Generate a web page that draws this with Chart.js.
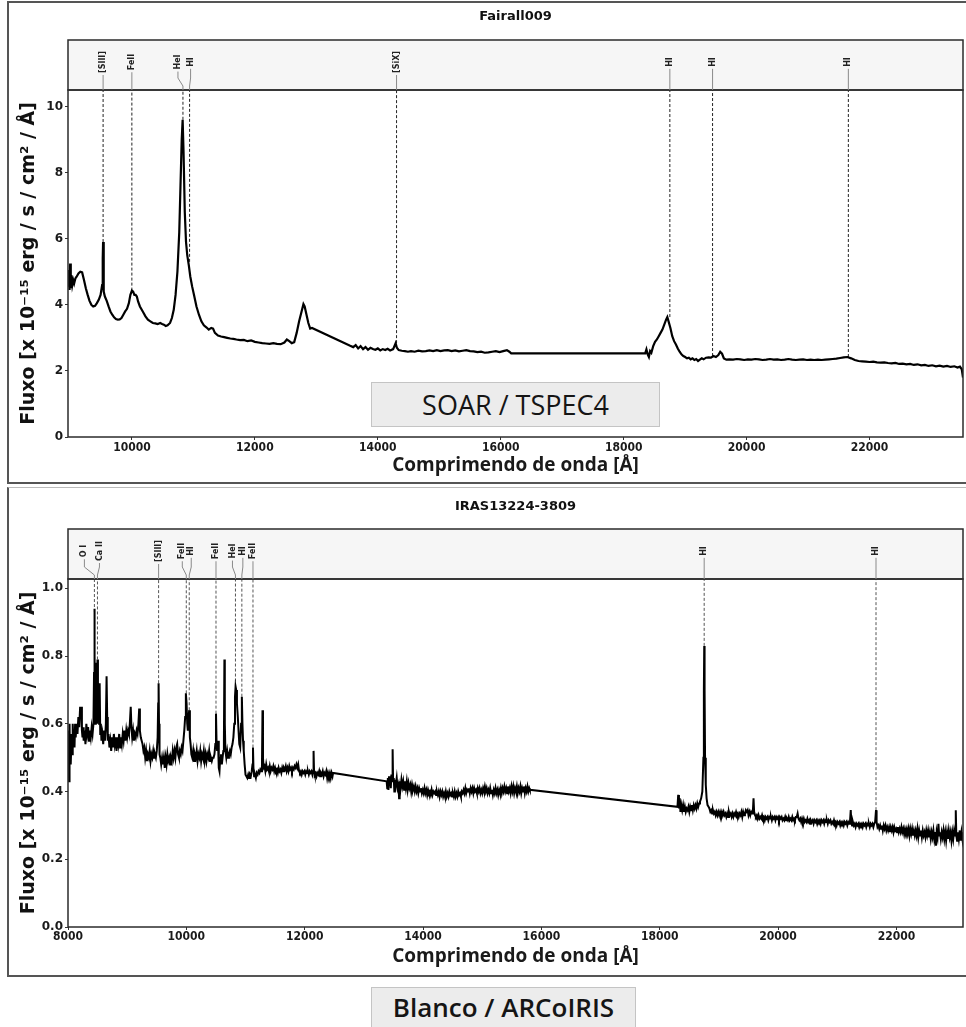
<!DOCTYPE html>
<html>
<head>
<meta charset="utf-8">
<script src="https://cdn.jsdelivr.net/npm/chart.js@4.4.1/dist/chart.umd.min.js"></script>
<style>
  body { margin: 0; background: #fff; width: 966px; height: 1027px; position: relative; overflow: hidden; }
  .panel { position: absolute; left: 7px; width: 962px; box-sizing: border-box; }
  #p1 { top: 1px; height: 483px; border-left: 2px solid #555; border-top: 2px solid #555; border-bottom: 2px solid #555; }
  #p2 { top: 487px; height: 490px; border-left: 2px solid #555; border-top: 1px solid #bbb; border-bottom: 2px solid #555; }
  canvas { position: absolute; }
  .tag { position: absolute; background: #ececec; border: 1px solid #c4c4c4; box-sizing: border-box;
         text-align: center; font-family: "Open Sans", sans-serif; color: #151515; z-index: 2; }
</style>
</head>
<body>
<div class="panel" id="p1"></div>
<div class="panel" id="p2"></div>
<canvas id="topChart" width="957" height="478" style="left:9px;top:4px"></canvas>
<canvas id="bottomChart" width="957" height="486" style="left:9px;top:489px"></canvas>
<div class="tag" style="left:371px;top:382px;width:289px;height:45px;font-size:27px;line-height:43px;">SOAR / TSPEC4</div>
<div class="tag" style="left:371px;top:987px;width:265px;height:42px;font-size:26px;font-weight:600;line-height:39px;">Blanco / ARCoIRIS</div>

<script>
// Fairall009 (SOAR / TSPEC4): [wavelength Å, flux]
const fairallSpectrum = [
  [8965,4.55],[8975,5.05],[8985,4.45],[8995,5.25],[9005,4.5],[9015,4.9],[9030,4.6],[9045,4.75],[9060,4.65],[9080,4.8],
  [9100,4.85],[9130,4.95],[9160,5.0],[9190,4.98],[9220,4.75],[9250,4.5],[9280,4.3],[9310,4.12],[9340,4.0],[9370,3.95],
  [9400,3.97],[9430,4.05],[9460,4.15],[9490,4.3],[9515,4.6],[9525,5.4],[9531,5.9],[9537,5.2],[9545,4.4],[9560,4.25],
  [9590,4.12],[9620,3.95],[9650,3.8],[9680,3.7],[9710,3.62],[9740,3.57],[9770,3.55],[9800,3.56],[9830,3.6],[9860,3.7],
  [9890,3.8],[9920,3.88],[9950,4.05],[9975,4.3],[10000,4.43],[10020,4.4],[10040,4.3],[10060,4.3],[10080,4.25],[10100,4.1],
  [10130,3.95],[10160,3.85],[10190,3.75],[10220,3.65],[10260,3.55],[10300,3.5],[10340,3.45],[10380,3.44],[10420,3.42],[10460,3.45],
  [10490,3.42],[10520,3.4],[10550,3.36],[10580,3.38],[10620,3.45],[10650,3.6],[10680,3.85],[10710,4.3],[10740,5.0],[10770,6.2],
  [10790,7.6],[10810,9.0],[10825,9.6],[10840,8.6],[10860,6.8],[10880,5.9],[10900,5.5],[10925,5.2],[10950,4.85],[10980,4.55],
  [11010,4.3],[11050,3.95],[11090,3.7],[11130,3.5],[11170,3.38],[11210,3.32],[11250,3.25],[11290,3.3],[11320,3.28],[11350,3.15],
  [11400,3.07],[11450,3.04],[11500,3.02],[11550,3.0],[11600,2.98],[11650,2.97],[11700,2.95],[11760,2.93],[11820,2.94],[11880,2.9],
  [11940,2.92],[12000,2.88],[12060,2.86],[12120,2.84],[12180,2.83],[12240,2.82],[12300,2.84],[12360,2.82],[12420,2.81],[12480,2.86],
  [12520,2.95],[12560,2.9],[12600,2.84],[12640,2.87],[12680,3.15],[12720,3.5],[12760,3.8],[12790,4.02],[12810,3.95],[12840,3.7],
  [12870,3.45],[12900,3.28],[12930,3.3],
  [13550,2.76],[13600,2.72],[13640,2.78],[13680,2.68],[13720,2.75],[13760,2.66],[13800,2.72],[13840,2.64],[13880,2.7],[13920,2.66],
  [13960,2.64],[14000,2.68],[14040,2.62],[14080,2.66],[14120,2.63],[14160,2.67],[14200,2.62],[14250,2.66],[14290,2.84],[14310,2.7],
  [14340,2.63],[14390,2.61],[14440,2.6],[14490,2.58],[14540,2.6],[14600,2.58],[14660,2.61],[14720,2.59],[14780,2.6],[14840,2.62],
  [14900,2.6],[14960,2.63],[15020,2.6],[15080,2.62],[15140,2.63],[15200,2.6],[15260,2.62],[15320,2.59],[15380,2.61],[15440,2.63],
  [15500,2.6],[15560,2.59],[15620,2.57],[15680,2.58],[15740,2.55],[15800,2.56],[15860,2.58],[15920,2.6],[15980,2.57],[16040,2.6],
  [16100,2.63],[16140,2.58],[16170,2.53],
  [18350,2.53],[18370,2.65],[18390,2.5],[18410,2.42],[18430,2.6],[18450,2.55],[18480,2.75],[18510,2.88],[18540,2.95],[18570,3.05],
  [18600,3.15],[18630,3.25],[18660,3.4],[18690,3.55],[18710,3.63],[18730,3.5],[18760,3.3],[18790,3.05],[18820,2.9],[18850,2.8],
  [18880,2.68],[18910,2.58],[18940,2.5],[18970,2.45],[19000,2.42],[19030,2.38],[19060,2.4],[19090,2.35],[19120,2.38],[19150,2.33],
  [19180,2.36],[19210,2.3],[19240,2.34],[19270,2.38],[19300,2.35],[19340,2.4],[19380,2.41],[19420,2.4],[19460,2.45],[19500,2.42],
  [19540,2.48],[19570,2.58],[19600,2.52],[19630,2.38],[19670,2.34],[19720,2.35],[19780,2.34],[19840,2.36],[19900,2.35],[19960,2.33],
  [20020,2.35],[20080,2.34],[20140,2.36],[20200,2.35],[20260,2.33],[20320,2.34],[20380,2.36],[20440,2.34],[20500,2.35],[20560,2.33],
  [20620,2.34],[20680,2.36],[20740,2.34],[20800,2.33],[20860,2.34],[20920,2.35],[20980,2.33],[21040,2.34],[21100,2.33],[21160,2.34],
  [21220,2.33],[21280,2.34],[21340,2.35],[21400,2.36],[21460,2.37],[21520,2.39],[21580,2.41],[21640,2.42],[21700,2.38],[21760,2.33],
  [21820,2.3],[21880,2.29],[21940,2.28],[22000,2.27],[22060,2.28],[22120,2.26],[22180,2.25],[22240,2.26],[22300,2.24],[22360,2.23],
  [22420,2.24],[22480,2.21],[22540,2.22],[22600,2.2],[22660,2.21],[22720,2.18],[22780,2.2],[22840,2.17],[22900,2.18],[22960,2.15],
  [23020,2.17],[23080,2.14],[23140,2.16],[23200,2.13],[23260,2.15],[23320,2.12],[23380,2.14],[23430,2.1],[23470,2.13],[23500,2.05],
  [23520,1.8]
];

// IRAS13224-3809 (Blanco / ARCoIRIS): [wavelength Å, flux]
const irasSpectrum = [
  [8000,0.45],[8010,0.58],[8018,0.43],[8026,0.6],[8034,0.5],[8042,0.57],[8050,0.48],[8060,0.56],[8070,0.51],[8080,0.6],
  [8090,0.55],[8100,0.58],[8110,0.53],[8120,0.6],[8130,0.56],[8145,0.6],[8160,0.57],[8175,0.62],[8190,0.59],[8205,0.65],
  [8215,0.62],[8225,0.65],[8235,0.58],[8245,0.56],[8255,0.59],[8265,0.55],[8280,0.58],[8295,0.54],[8310,0.6],[8325,0.57],
  [8340,0.59],[8355,0.55],[8370,0.58],[8385,0.56],[8400,0.59],[8415,0.57],[8430,0.6],[8440,0.75],[8446,0.94],[8452,0.8],
  [8460,0.6],[8470,0.72],[8480,0.78],[8490,0.6],[8498,0.79],[8506,0.62],[8515,0.72],[8525,0.6],[8535,0.72],[8545,0.57],
  [8555,0.6],[8565,0.55],[8580,0.57],[8595,0.54],[8610,0.58],[8625,0.55],[8640,0.6],[8652,0.74],[8662,0.62],[8672,0.55],
  [8685,0.57],[8700,0.53],[8715,0.55],[8730,0.52],[8745,0.56],[8760,0.53],[8775,0.57],[8790,0.54],[8805,0.56],[8820,0.52],
  [8835,0.56],[8850,0.54],[8865,0.57],[8880,0.53],[8895,0.56],[8910,0.54],[8925,0.57],[8940,0.55],[8955,0.58],[8970,0.55],
  [8985,0.58],[9000,0.56],[9015,0.58],[9030,0.57],[9045,0.6],[9060,0.65],[9072,0.59],[9085,0.56],[9100,0.58],[9115,0.55],
  [9130,0.57],[9145,0.56],[9160,0.58],[9175,0.57],[9190,0.6],[9203,0.645],[9215,0.58],[9230,0.56],[9245,0.55],[9260,0.54],
  [9275,0.52],[9290,0.53],[9305,0.5],[9320,0.52],[9335,0.49],[9350,0.51],[9365,0.5],[9380,0.52],[9395,0.49],[9410,0.51],
  [9425,0.5],[9440,0.52],[9455,0.5],[9470,0.51],[9485,0.5],[9500,0.52],[9515,0.56],[9524,0.66],[9531,0.72],[9538,0.6],
  [9547,0.51],[9560,0.5],[9575,0.48],[9590,0.5],[9605,0.48],[9620,0.5],[9635,0.47],[9650,0.5],[9665,0.48],[9680,0.51],
  [9695,0.49],[9710,0.5],[9725,0.48],[9740,0.5],[9755,0.49],[9770,0.52],[9785,0.5],[9800,0.52],[9815,0.5],[9830,0.53],
  [9845,0.54],[9860,0.51],[9875,0.5],[9890,0.52],[9905,0.51],[9920,0.53],[9935,0.52],[9950,0.55],[9965,0.58],[9980,0.62],
  [9992,0.69],[10004,0.66],[10015,0.6],[10025,0.58],[10035,0.62],[10049,0.64],[10060,0.56],[10072,0.54],[10085,0.51],[10100,0.5],
  [10115,0.52],[10130,0.49],[10145,0.51],[10160,0.5],[10175,0.52],[10190,0.49],[10205,0.51],[10220,0.5],[10235,0.52],[10250,0.49],
  [10265,0.51],[10280,0.5],[10295,0.52],[10310,0.49],[10325,0.51],[10340,0.49],[10355,0.51],[10370,0.5],[10385,0.52],[10400,0.49],
  [10415,0.5],[10430,0.49],[10445,0.5],[10460,0.5],[10475,0.51],[10490,0.54],[10501,0.63],[10510,0.55],[10520,0.52],[10535,0.55],
  [10548,0.47],[10560,0.46],[10572,0.5],[10585,0.51],[10600,0.48],[10612,0.5],[10625,0.52],[10635,0.55],[10643,0.79],[10650,0.6],
  [10660,0.52],[10675,0.5],[10690,0.52],[10705,0.5],[10720,0.51],[10735,0.52],[10750,0.51],[10765,0.53],[10780,0.54],[10795,0.56],
  [10810,0.6],[10822,0.68],[10832,0.71],[10842,0.7],[10855,0.66],[10870,0.62],[10882,0.58],[10895,0.54],[10910,0.53],[10925,0.6],
  [10938,0.68],[10948,0.6],[10958,0.55],[10970,0.52],[10985,0.48],[11000,0.45],[11015,0.445],[11030,0.44],[11045,0.45],[11060,0.44],
  [11075,0.45],[11090,0.445],[11105,0.46],[11118,0.48],[11126,0.53],[11134,0.47],[11145,0.445],[11160,0.45],[11175,0.44],[11190,0.455],
  [11205,0.45],[11220,0.46],[11235,0.455],[11250,0.465],[11265,0.46],[11278,0.48],[11287,0.64],[11295,0.5],[11305,0.47],[11320,0.475],
  [11335,0.46],[11350,0.48],[11365,0.465],[11380,0.47],[11395,0.46],[11410,0.475],[11425,0.46],[11440,0.47],[11455,0.465],[11470,0.475],
  [11485,0.46],[11500,0.47],[11515,0.46],[11530,0.465],[11545,0.455],[11560,0.47],[11575,0.46],[11590,0.465],[11605,0.455],[11620,0.47],
  [11635,0.46],[11650,0.47],[11665,0.465],[11680,0.475],[11695,0.46],[11710,0.47],[11725,0.46],[11740,0.475],[11755,0.465],[11770,0.47],
  [11785,0.46],[11800,0.47],[11815,0.465],[11830,0.475],[11845,0.47],[11860,0.48],[11875,0.47],[11890,0.48],[11905,0.46],[11920,0.455],
  [11935,0.46],[11950,0.45],[11965,0.46],[11980,0.455],[11995,0.46],[12010,0.45],[12025,0.46],[12040,0.455],[12055,0.46],[12070,0.45],
  [12085,0.46],[12100,0.455],[12115,0.46],[12130,0.45],[12142,0.46],[12150,0.52],[12158,0.46],[12170,0.45],[12185,0.455],[12200,0.445],
  [12215,0.455],[12230,0.45],[12245,0.46],[12260,0.445],[12275,0.455],[12290,0.45],[12305,0.46],[12320,0.445],[12335,0.455],[12350,0.45],
  [12365,0.46],[12380,0.44],[12395,0.455],[12410,0.445],[12425,0.455],[12440,0.44],[12455,0.455],[12470,0.445],[12480,0.455],
  [13385,0.43],[13395,0.41],[13405,0.44],[13415,0.405],[13425,0.445],[13435,0.42],[13445,0.44],[13455,0.41],[13465,0.45],[13478,0.43],
  [13486,0.525],[13494,0.43],[13505,0.44],[13515,0.4],[13525,0.435],[13540,0.42],[13555,0.44],[13570,0.41],[13585,0.42],[13595,0.38],
  [13605,0.43],[13620,0.41],[13635,0.435],[13650,0.415],[13665,0.43],[13680,0.405],[13695,0.43],[13710,0.41],[13725,0.43],[13740,0.405],
  [13755,0.425],[13770,0.41],[13785,0.42],[13800,0.4],[13815,0.42],[13830,0.405],[13845,0.415],[13860,0.4],[13875,0.415],[13890,0.4],
  [13905,0.41],[13920,0.395],[13935,0.41],[13950,0.4],[13965,0.41],[13980,0.395],[13995,0.405],[14010,0.395],[14025,0.41],[14040,0.395],
  [14055,0.405],[14070,0.39],[14085,0.405],[14100,0.395],[14115,0.4],[14130,0.39],[14145,0.405],[14160,0.39],[14175,0.4],[14190,0.395],
  [14205,0.4],[14220,0.39],[14235,0.4],[14250,0.39],[14265,0.4],[14280,0.385],[14295,0.4],[14310,0.39],[14325,0.4],[14340,0.385],
  [14355,0.395],[14370,0.385],[14385,0.4],[14400,0.385],[14415,0.395],[14430,0.385],[14445,0.4],[14460,0.39],[14475,0.395],[14490,0.385],
  [14505,0.395],[14520,0.385],[14535,0.4],[14550,0.385],[14565,0.395],[14580,0.385],[14595,0.4],[14610,0.39],[14625,0.395],[14640,0.385],
  [14655,0.4],[14670,0.395],[14685,0.405],[14700,0.395],[14715,0.41],[14730,0.395],[14745,0.405],[14760,0.4],[14775,0.41],[14790,0.395],
  [14805,0.41],[14820,0.4],[14835,0.41],[14850,0.395],[14865,0.41],[14880,0.4],[14895,0.405],[14910,0.395],[14925,0.41],[14940,0.4],
  [14955,0.41],[14970,0.395],[14985,0.405],[15000,0.395],[15015,0.41],[15030,0.4],[15045,0.415],[15060,0.4],[15075,0.41],[15090,0.395],
  [15105,0.405],[15120,0.395],[15135,0.41],[15150,0.395],[15165,0.405],[15180,0.39],[15195,0.405],[15210,0.395],[15225,0.41],[15240,0.395],
  [15255,0.405],[15270,0.39],[15285,0.405],[15300,0.395],[15315,0.41],[15330,0.395],[15345,0.41],[15360,0.4],[15375,0.415],[15390,0.4],
  [15405,0.41],[15420,0.395],[15435,0.415],[15450,0.4],[15465,0.41],[15480,0.395],[15495,0.415],[15510,0.4],[15525,0.415],[15540,0.395],
  [15555,0.41],[15570,0.4],[15585,0.415],[15600,0.395],[15615,0.41],[15630,0.4],[15645,0.415],[15660,0.395],[15675,0.41],[15690,0.4],
  [15705,0.415],[15720,0.395],[15735,0.41],[15750,0.4],[15765,0.415],[15780,0.4],[15795,0.41],[15805,0.405],
  [18300,0.355],[18312,0.39],[18325,0.35],[18338,0.38],[18350,0.34],[18365,0.36],[18380,0.345],[18395,0.36],[18410,0.34],[18425,0.355],
  [18440,0.34],[18455,0.35],[18470,0.345],[18485,0.355],[18500,0.34],[18515,0.355],[18530,0.345],[18545,0.36],[18560,0.345],[18575,0.36],
  [18590,0.35],[18605,0.36],[18620,0.35],[18635,0.365],[18650,0.355],[18665,0.365],[18680,0.37],[18700,0.38],[18720,0.4],[18738,0.5],
  [18746,0.7],[18752,0.83],[18758,0.7],[18766,0.5],[18778,0.42],[18792,0.38],[18808,0.36],[18825,0.355],[18840,0.35],[18855,0.34],
  [18870,0.345],[18885,0.335],[18900,0.345],[18915,0.335],[18930,0.34],[18945,0.33],[18960,0.34],[18975,0.33],[18990,0.34],[19005,0.33],
  [19020,0.34],[19035,0.33],[19050,0.34],[19065,0.33],[19080,0.34],[19095,0.33],[19110,0.335],[19125,0.325],[19140,0.335],[19155,0.325],
  [19170,0.34],[19185,0.33],[19200,0.335],[19215,0.325],[19230,0.335],[19245,0.325],[19260,0.335],[19275,0.33],[19290,0.34],[19305,0.33],
  [19320,0.335],[19335,0.325],[19350,0.335],[19365,0.33],[19380,0.34],[19395,0.325],[19410,0.34],[19425,0.33],[19440,0.335],[19455,0.345],
  [19470,0.34],[19485,0.345],[19500,0.33],[19515,0.34],[19530,0.33],[19545,0.34],[19560,0.335],[19575,0.345],[19585,0.38],[19595,0.34],
  [19610,0.33],[19625,0.325],[19640,0.33],[19655,0.32],[19670,0.33],[19685,0.32],[19700,0.325],[19715,0.32],[19730,0.33],[19745,0.32],
  [19760,0.325],[19775,0.315],[19790,0.325],[19805,0.32],[19820,0.325],[19835,0.315],[19850,0.325],[19865,0.32],[19880,0.325],[19895,0.315],
  [19910,0.325],[19925,0.32],[19940,0.325],[19955,0.315],[19970,0.325],[19985,0.32],[20000,0.325],[20015,0.315],[20030,0.325],[20045,0.32],
  [20060,0.325],[20075,0.315],[20090,0.32],[20105,0.315],[20120,0.325],[20135,0.315],[20150,0.32],[20165,0.315],[20180,0.325],[20195,0.315],
  [20210,0.32],[20225,0.315],[20240,0.325],[20255,0.315],[20270,0.32],[20285,0.315],[20300,0.325],[20315,0.325],[20330,0.335],[20345,0.32],
  [20360,0.315],[20375,0.32],[20390,0.31],[20405,0.32],[20420,0.31],[20435,0.32],[20450,0.31],[20465,0.315],[20480,0.31],[20495,0.32],
  [20510,0.31],[20525,0.315],[20540,0.305],[20555,0.315],[20570,0.31],[20585,0.315],[20600,0.305],[20615,0.315],[20630,0.31],[20645,0.315],
  [20660,0.305],[20675,0.315],[20690,0.31],[20705,0.315],[20720,0.305],[20735,0.315],[20750,0.31],[20765,0.315],[20780,0.305],[20795,0.315],
  [20810,0.31],[20825,0.315],[20840,0.305],[20855,0.315],[20870,0.31],[20885,0.315],[20900,0.305],[20915,0.31],[20930,0.305],[20945,0.315],
  [20960,0.305],[20975,0.31],[20990,0.3],[21005,0.31],[21020,0.305],[21035,0.31],[21050,0.3],[21065,0.31],[21080,0.305],[21095,0.31],
  [21110,0.3],[21125,0.31],[21140,0.305],[21155,0.31],[21170,0.3],[21185,0.31],[21200,0.305],[21215,0.31],[21228,0.345],[21236,0.31],
  [21250,0.3],[21265,0.31],[21280,0.3],[21295,0.305],[21310,0.295],[21325,0.305],[21340,0.3],[21355,0.305],[21370,0.295],[21385,0.305],
  [21400,0.3],[21415,0.305],[21430,0.295],[21445,0.305],[21460,0.3],[21475,0.305],[21490,0.295],[21505,0.305],[21520,0.3],[21535,0.305],
  [21550,0.295],[21565,0.305],[21580,0.3],[21595,0.305],[21610,0.295],[21625,0.305],[21640,0.31],[21655,0.345],[21665,0.31],[21680,0.295],
  [21695,0.3],[21710,0.29],[21725,0.3],[21740,0.29],[21755,0.3],[21770,0.285],[21785,0.3],[21800,0.29],[21815,0.3],[21830,0.285],
  [21845,0.295],[21860,0.285],[21875,0.295],[21890,0.28],[21905,0.295],[21920,0.285],[21935,0.295],[21950,0.28],[21965,0.295],[21980,0.285],
  [21995,0.29],[22010,0.28],[22025,0.295],[22040,0.28],[22055,0.29],[22070,0.28],[22085,0.295],[22100,0.28],[22115,0.29],[22130,0.275],
  [22145,0.29],[22160,0.28],[22175,0.29],[22190,0.275],[22205,0.29],[22220,0.27],[22235,0.29],[22250,0.275],[22265,0.29],[22280,0.27],
  [22295,0.285],[22310,0.27],[22325,0.285],[22340,0.27],[22355,0.29],[22370,0.265],[22385,0.285],[22400,0.27],[22415,0.285],[22430,0.265],
  [22445,0.285],[22460,0.27],[22475,0.28],[22490,0.265],[22505,0.285],[22520,0.27],[22535,0.285],[22550,0.265],[22565,0.28],[22580,0.26],
  [22595,0.28],[22610,0.265],[22625,0.285],[22640,0.26],[22655,0.28],[22668,0.24],[22680,0.28],[22695,0.265],[22710,0.305],[22722,0.27],
  [22735,0.28],[22750,0.26],[22765,0.28],[22780,0.265],[22795,0.285],[22810,0.26],[22825,0.28],[22840,0.255],[22855,0.28],[22870,0.26],
  [22885,0.285],[22900,0.265],[22915,0.28],[22930,0.255],[22945,0.28],[22960,0.26],[22975,0.285],[22990,0.27],[23003,0.345],[23012,0.27],
  [23025,0.255],[23040,0.28],[23055,0.26],[23070,0.285],[23085,0.255],[23100,0.28],[23115,0.26],[23125,0.28]
];

// tick values
const fairallXTicks = [10000, 12000, 14000, 16000, 18000, 20000, 22000];
const fairallYTicks = [0, 2, 4, 6, 8, 10];
const irasXTicks = [8000, 10000, 12000, 14000, 16000, 18000, 20000, 22000];
const irasYTicks = [0, 0.2, 0.4, 0.6, 0.8, 1.0];

// line identifications: name, rest wavelength, flux where the dashed marker stops
const fairallLineNames = ['[SIII]', 'FeII', 'HeI', 'HI', '[SiX]', 'HI', 'HI', 'HI'];
const fairallLineWaves = [9531, 9999, 10830, 10938, 14305, 18751, 19446, 21655];
const fairallLineEnds  = [5.9, 4.43, 9.6, 5.3, 2.84, 3.63, 2.45, 2.42];

const irasLineNames = ['O I', 'Ca II', '[SIII]', 'FeII', 'HI', 'FeII', 'HeI', 'HI', 'FeII', 'HI', 'HI'];
const irasLineWaves = [8446, 8498, 9531, 9999, 10049, 10501, 10830, 10938, 11126, 18751, 21655];
const irasLineEnds  = [0.93, 0.79, 0.72, 0.69, 0.64, 0.63, 0.71, 0.68, 0.53, 0.83, 0.345];

const fluxTitle = 'Fluxo [x 10\u207B\u00B9\u2075 erg / s / cm\u00B2 / \u00C5]';
const waveTitle = 'Comprimendo de onda [\u00C5]';

// draws the label strip above the plot, the frame and the panel title
function lineIdPlugin(cfg) {
  return {
    id: 'lineIds',
    afterDraw(chart) {
      const { ctx, chartArea: a } = chart;
      const x = chart.scales.x;
      const top = a.top - cfg.stripHeight;
      ctx.save();
      ctx.fillStyle = '#f6f6f6';
      ctx.fillRect(a.left, top, a.width, cfg.stripHeight);
      ctx.strokeStyle = '#2b2b2b';
      ctx.lineWidth = 1.5;
      ctx.strokeRect(a.left, top, a.width, cfg.stripHeight);
      ctx.strokeRect(a.left, a.top, a.width, a.height);

      ctx.fillStyle = '#111';
      ctx.font = 'bold 13px "DejaVu Sans"';
      ctx.textAlign = 'center';
      ctx.textBaseline = 'middle';
      ctx.fillText(cfg.title, (a.left + a.right) / 2, top + cfg.titleOffset);

      ctx.font = 'bold 8px "DejaVu Sans"';
      cfg.names.forEach((name, i) => {
        const lx = x.getPixelForValue(cfg.waves[i]);
        const tx = lx + cfg.shifts[i];
        const cy = top + 22;
        const half = ctx.measureText(name).width / 2;
        ctx.strokeStyle = '#8a8a8a';
        ctx.lineWidth = 1;
        ctx.beginPath();
        ctx.moveTo(tx, cy + half + 2);
        ctx.lineTo(tx, a.top - 12);
        ctx.lineTo(lx, a.top - 4);
        ctx.lineTo(lx, a.top);
        ctx.stroke();
        ctx.save();
        ctx.translate(tx, cy);
        ctx.rotate(-Math.PI / 2);
        ctx.fillStyle = '#222';
        ctx.fillText(name, 0, 0);
        ctx.restore();
      });
      ctx.restore();
    }
  };
}

function makeChart(id, spectrum, names, waves, ends, xTicks, yTicks, cfg) {
  const datasets = [{
    data: spectrum.map(p => ({ x: p[0], y: p[1] })),
    borderColor: '#000',
    borderWidth: cfg.lineWidth,
    pointRadius: 0,
    showLine: true,
    order: 0
  }];
  waves.forEach((w, i) => {
    datasets.push({
      data: [{ x: w, y: ends[i] }, { x: w, y: cfg.yMax }],
      borderColor: cfg.dashColor,
      borderWidth: 1,
      borderDash: [3, 2],
      pointRadius: 0,
      showLine: true,
      order: 1
    });
  });

  return new Chart(document.getElementById(id), {
    type: 'scatter',
    data: { datasets },
    options: {
      responsive: false,
      animation: false,
      devicePixelRatio: 1,
      layout: { padding: { top: cfg.padTop, right: 3, left: 0, bottom: 0 } },
      plugins: { legend: { display: false }, tooltip: { enabled: false } },
      scales: {
        x: {
          type: 'linear',
          min: cfg.xMin,
          max: cfg.xMax,
          afterBuildTicks: s => { s.ticks = xTicks.map(v => ({ value: v })); },
          afterFit: s => { s.height = cfg.xHeight; },
          border: { display: false },
          grid: { drawOnChartArea: false, tickLength: 3, color: '#333' },
          ticks: {
            autoSkip: false,
            maxRotation: 0,
            padding: cfg.xPad,
            color: '#1a1a1a',
            font: { family: '"DejaVu Sans Condensed", "DejaVu Sans", sans-serif', size: 12, weight: 'bold' },
            callback: v => String(v)
          },
          title: {
            display: true,
            text: waveTitle,
            color: '#1a1a1a',
            font: { family: '"Open Sans", sans-serif', size: 19, weight: 'bold' },
            padding: { top: 0, bottom: cfg.xTitlePad }
          }
        },
        y: {
          min: 0,
          max: cfg.yMax,
          afterBuildTicks: s => { s.ticks = yTicks.map(v => ({ value: v })); },
          afterFit: s => { s.width = 59; },
          border: { display: false },
          grid: { drawOnChartArea: false, tickLength: 3, color: '#333' },
          ticks: {
            padding: 2,
            color: '#1a1a1a',
            font: { family: '"DejaVu Sans"', size: 12, weight: 'bold' },
            callback: v => v.toFixed(cfg.yDigits)
          },
          title: {
            display: true,
            text: fluxTitle,
            color: '#111',
            font: { family: '"DejaVu Sans"', size: 19, weight: 'bold' },
            padding: { top: 9, bottom: 0 }
          }
        }
      }
    },
    plugins: [lineIdPlugin({
      title: cfg.title, titleOffset: cfg.titleOffset, stripHeight: 50,
      names, waves, shifts: cfg.shifts
    })]
  });
}

makeChart('topChart', fairallSpectrum, fairallLineNames, fairallLineWaves, fairallLineEnds,
  fairallXTicks, fairallYTicks, {
  title: 'Fairall009', titleOffset: -23,
  xMin: 8960, xMax: 23520, yMax: 10.5, yDigits: 0,
  padTop: 86, xHeight: 45, xPad: 1, xTitlePad: 5,
  lineWidth: 2.2, dashColor: '#222',
  shifts: [0, 0, -5, 1, 0, 0, 0, 0]
});

makeChart('bottomChart', irasSpectrum, irasLineNames, irasLineWaves, irasLineEnds,
  irasXTicks, irasYTicks, {
  title: 'IRAS13224-3809', titleOffset: -22,
  xMin: 8000, xMax: 23125, yMax: 1.0275, yDigits: 1,
  padTop: 90, xHeight: 48, xPad: 0, xTitlePad: 7,
  lineWidth: 2, dashColor: '#555',
  shifts: [-10, 2, 0, -4, 2, 0, -3, 1, 0, 0, 0]
});
</script>
</body>
</html>
